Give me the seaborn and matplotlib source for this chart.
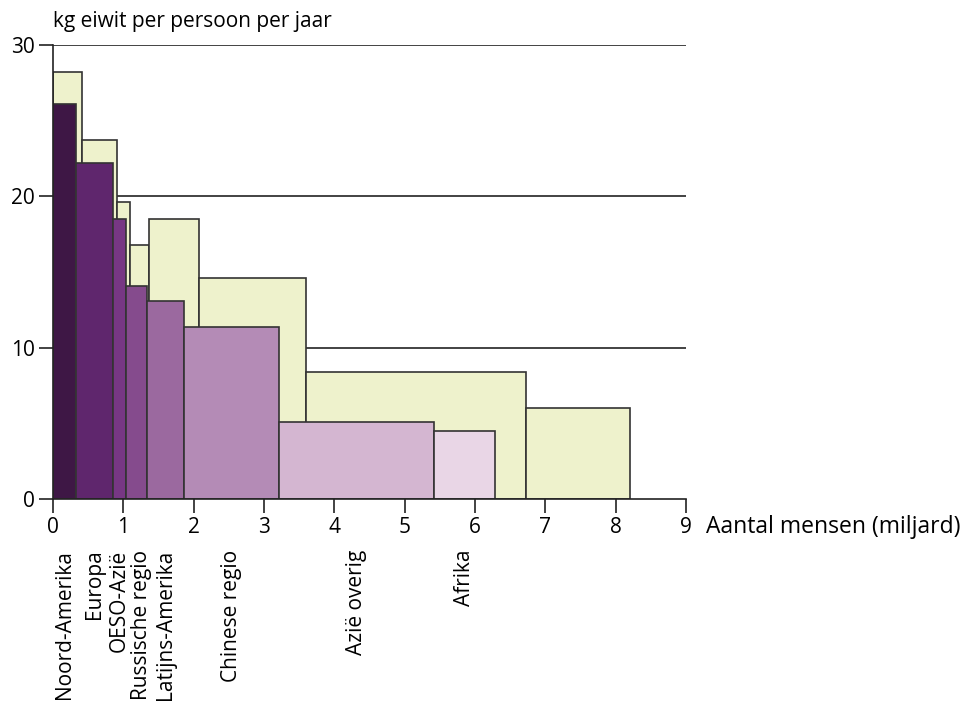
import matplotlib
matplotlib.use("Agg")
import matplotlib.pyplot as plt
import seaborn as sns

# regions, population (billion) and protein per person (kg/year)
regions = ["Noord-Amerika", "Europa", "OESO-Azië", "Russische regio",
           "Latijns-Amerika", "Chinese regio", "Azië overig", "Afrika"]

# current situation (purple bars)
pop_now = [0.32, 0.53, 0.19, 0.29, 0.53, 1.36, 2.19, 0.88]
protein_now = [26.1, 22.2, 18.5, 14.1, 13.1, 11.4, 5.1, 4.5]

# future situation (light green bars)
pop_future = [0.41, 0.50, 0.19, 0.26, 0.71, 1.52, 3.14, 1.48]
protein_future = [28.2, 23.7, 19.6, 16.8, 18.5, 14.6, 8.4, 6.0]

purples = ["#3e1745", "#5f266d", "#773784", "#854b8d",
           "#9b699f", "#b48bb6", "#d4b6d1", "#e9d6e6"]
green = "#eef2cc"
edge = "#333333"

sns.set_style("white")
plt.rcParams['font.family'] = ['Open Sans', 'DejaVu Sans']
plt.rcParams['text.color'] = "black"
plt.rcParams['xtick.labelcolor'] = "black"
plt.rcParams['ytick.labelcolor'] = "black"


def left_edges(widths):
    """ Running total of widths, gives the left side of every bar."""
    lefts = []
    total = 0
    for w in widths:
        lefts.append(total)
        total += w
    return lefts


fig = plt.figure(figsize=(9.64, 7.16), dpi=100)
ax = fig.add_axes([0.055, 0.303, 0.6566, 0.634])

# gridlines behind the bars
for level in [10, 20, 30]:
    ax.plot([0, 9], [level, level], color="#222222", lw=1.2, zorder=0)

ax.bar(left_edges(pop_future), protein_future, width=pop_future, align="edge",
       color=green, edgecolor=edge, linewidth=1.2, zorder=1)
lefts_now = left_edges(pop_now)
ax.bar(lefts_now, protein_now, width=pop_now, align="edge",
       color=purples, edgecolor=edge, linewidth=1.2, zorder=2)

ax.set_xlim(0, 9)
ax.set_ylim(0, 30)
for side in ["top", "right"]:
    ax.spines[side].set_visible(False)
for side in ["left", "bottom"]:
    ax.spines[side].set_color("#222222")
    ax.spines[side].set_linewidth(1.2)

ax.set_xticks(range(0, 10))
ax.set_xticks([i + 0.5 for i in range(9)], minor=True)
ax.set_yticks([0, 10, 20, 30])
ax.set_yticks([5, 15, 25], minor=True)
ax.tick_params(axis="both", which="major", direction="out", length=10,
               width=1.2, color="#222222", labelsize=15, pad=3)
ax.tick_params(axis="both", which="minor", direction="out", length=5,
               width=1.2, color="#222222")
ax.tick_params(axis="x", bottom=True)
ax.tick_params(axis="y", left=True)

# region names under the axis, spread out a bit where they crowd
positions = []
for left, w in zip(lefts_now, pop_now):
    c = left + w / 2
    if positions and c - positions[-1] < 0.31:
        c = positions[-1] + 0.31
    positions.append(c)
for name, xpos in zip(regions, positions):
    ax.text(xpos, -3.35, name, rotation=90, ha="center", va="top",
            fontsize=15, clip_on=False)

fig.text(0.055, 0.955, "kg eiwit per persoon per jaar", fontsize=15,
         ha="left", va="bottom")
fig.text(0.732, 0.264, "Aantal mensen (miljard)", fontsize=16.5,
         ha="left", va="center")

fig.savefig("out.png", dpi=100)
